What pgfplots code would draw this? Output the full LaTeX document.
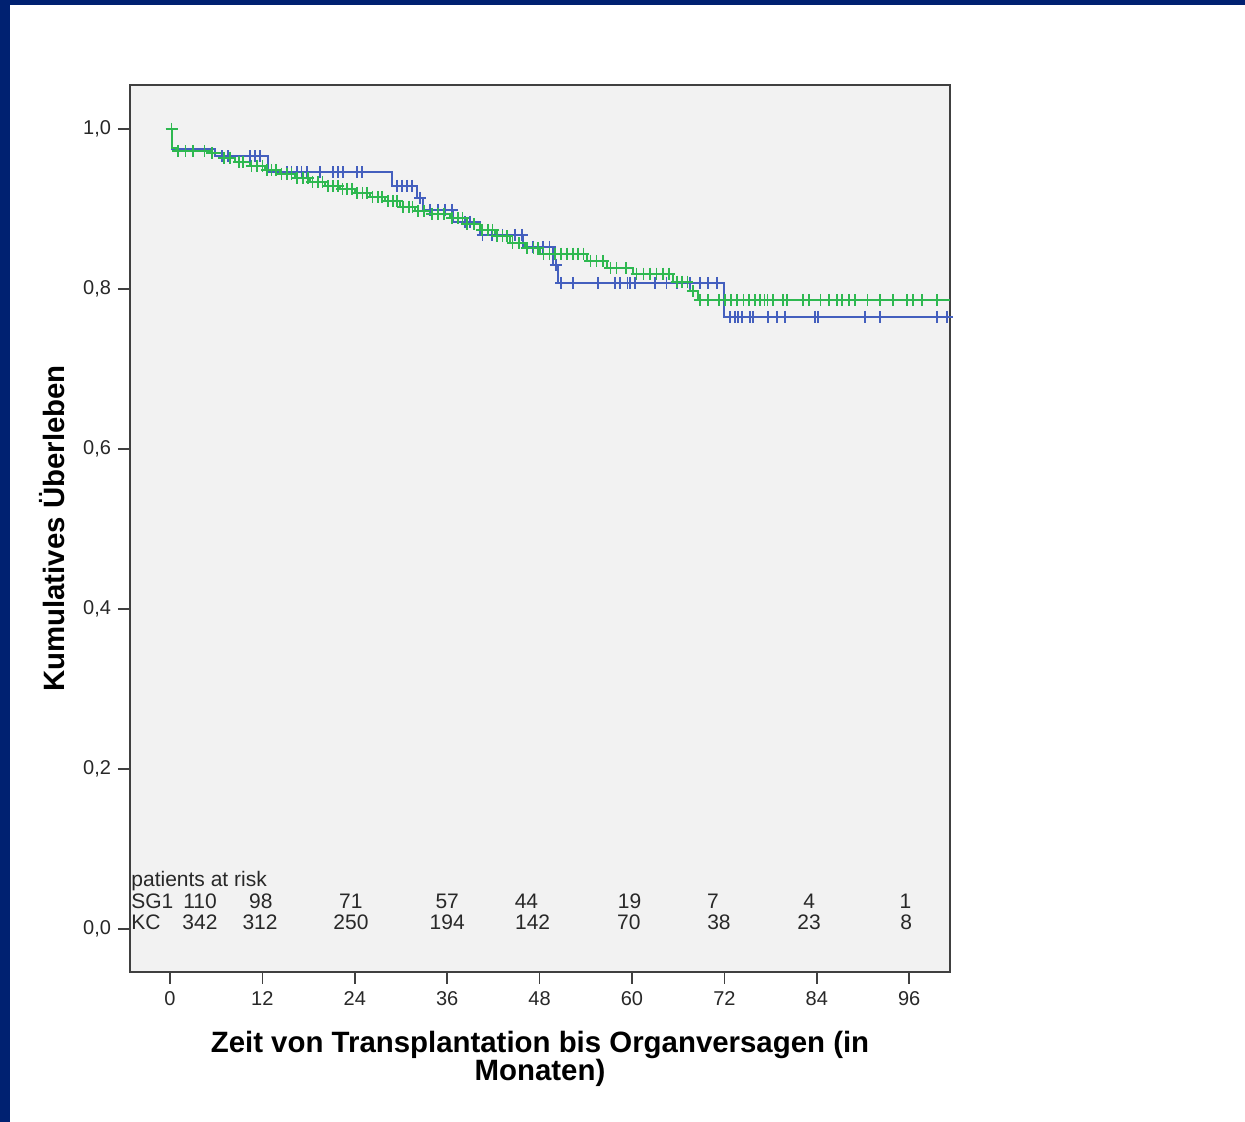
\documentclass[border=0pt]{standalone}
\usepackage{fontspec}
\setmainfont{Liberation Sans}
\usepackage{pgfplots}
\pgfplotsset{compat=1.18}
\definecolor{navy}{RGB}{0,33,113}
\definecolor{sgblue}{RGB}{68,95,190}
\definecolor{kcgreen}{RGB}{46,184,80}
\definecolor{bggray}{RGB}{242,242,242}
\definecolor{txt}{RGB}{40,40,40}
\begin{document}
\begin{tikzpicture}
\fill[white] (0,0) rectangle (622.5pt,561pt);
\useasboundingbox (0,0) rectangle (622.5pt,561pt);
\fill[navy] (0,0) rectangle (5pt,561pt);
\fill[navy] (0,558.5pt) rectangle (622.5pt,561pt);
\begin{axis}[
  at={(65pt,75pt)}, anchor=south west,
  scale only axis, width=410pt, height=443.5pt,
  xmin=-5.19, xmax=101.3, ymin=-0.054, ymax=1.055,
  axis background/.style={fill=bggray},
  axis line style={draw=black!75, line width=0.8pt},
  xtick={0,12,...,96}, ytick={0,0.2,0.4,0.6,0.8,1.0},
  xtick pos=bottom, ytick pos=left, tick align=outside,
  major tick length=6pt, tick style={black!75, line width=0.8pt},
  yticklabel style={/pgf/number format/fixed, /pgf/number format/precision=1,
    /pgf/number format/fixed zerofill, /pgf/number format/use comma},
  ticklabel style={font=\fontsize{10}{12}\selectfont, text=txt},
  /pgf/number format/assume math mode=true,
  xlabel={Zeit von Transplantation bis Organversagen (in\\Monaten)},
  xlabel style={at={(axis description cs:0.5,-0.066)}, anchor=north, align=center,
    font=\fontsize{14.7}{14}\selectfont\bfseries, inner sep=0pt},
  ylabel={Kumulatives Überleben},
  ylabel style={at={(axis description cs:-0.0951,0.5)}, anchor=center,
    font=\fontsize{14.7}{14}\selectfont\bfseries, inner sep=0pt},
]
% SG1 (blue)
\addplot[const plot, sgblue, line width=1pt] coordinates {
 (0,1.0) (0.26,0.975) (5.8,0.966) (12.7,0.946) (28.8,0.929) (32.1,0.914)
 (32.9,0.899) (36.8,0.884) (40.3,0.8675) (45.8,0.8525) (49.7,0.83)
 (50.4,0.8075) (71.9,0.765) (101.3,0.765)
};
\addplot[only marks, mark=+, mark size=3pt, sgblue, line width=0.85pt] coordinates {
 (6.75,0.966) (7.5,0.966) (10.4,0.966) (11.0,0.966) (11.7,0.966)
 (15.2,0.946) (15.8,0.946) (16.5,0.946) (17.1,0.946) (17.8,0.946) (19.5,0.946)
 (21.2,0.946) (21.8,0.946) (22.5,0.946) (24.3,0.946) (24.9,0.946)
 (29.5,0.929) (30.1,0.929) (30.8,0.929) (31.4,0.929)
 (32.5,0.914)
 (33.8,0.899) (34.8,0.899) (35.7,0.899) (36.6,0.899)
 (38.3,0.884) (39.0,0.884)
 (40.6,0.8675) (41.8,0.8675) (43.2,0.8675) (44.8,0.8675) (45.7,0.8675)
 (47.1,0.8525) (48.4,0.8525) (49.3,0.8525)
 (50.1,0.83)
 (50.8,0.8075) (52.3,0.8075) (55.6,0.8075) (57.8,0.8075) (58.4,0.8075)
 (59.4,0.8075) (59.7,0.8075) (60.4,0.8075) (63.0,0.8075) (64.5,0.8075)
 (65.8,0.8075) (67.5,0.8075) (68.8,0.8075) (69.9,0.8075) (71.0,0.8075)
 (72.7,0.765) (73.4,0.765) (73.8,0.765) (74.3,0.765) (75.3,0.765) (75.7,0.765)
 (77.7,0.765) (78.8,0.765) (79.9,0.765) (83.8,0.765) (84.2,0.765)
 (90.3,0.765) (92.2,0.765) (99.6,0.765) (100.9,0.765)
};
% KC (green)
\addplot[const plot, kcgreen, line width=1pt] coordinates {
 (0,1.0) (0.26,0.976) (0.78,0.9725) (5.19,0.97) (6.88,0.964) (8.44,0.959)
 (10.39,0.954) (12.34,0.949) (14.29,0.944) (16.23,0.939) (18.18,0.934)
 (20.13,0.929) (22.08,0.925) (24.03,0.92) (25.97,0.915) (27.92,0.91)
 (29.87,0.9025) (31.82,0.8975) (33.77,0.894) (36.36,0.889) (38.31,0.881)
 (40.26,0.874) (42.21,0.866) (44.16,0.857) (46.1,0.851) (48.05,0.844)
 (54.16,0.835) (56.75,0.826) (60.13,0.819) (65.32,0.809) (67.53,0.7975)
 (68.57,0.786) (101.3,0.786)
};
\addplot[only marks, mark=+, mark size=3pt, kcgreen, line width=0.85pt] coordinates {
 (0.2,1.0) (1,0.9725) (2,0.9725) (3,0.9725) (4.5,0.9725) (5.5,0.97)
 (7,0.964) (7.8,0.964) (9,0.959) (9.5,0.959)
 (10.6,0.954) (11.3,0.954) (12,0.954)
 (12.6,0.949) (13.2,0.949) (13.8,0.949)
 (14.5,0.944) (15.2,0.944) (15.8,0.944)
 (16.5,0.939) (17.3,0.939) (17.9,0.939)
 (18.5,0.934) (19.2,0.934) (19.8,0.934)
 (20.5,0.929) (21.2,0.929) (21.8,0.929)
 (22.4,0.925) (23,0.925) (23.6,0.925)
 (24.3,0.92) (25,0.92) (25.6,0.92)
 (26.3,0.915) (27,0.915) (27.5,0.915)
 (28.3,0.91) (29,0.91) (29.5,0.91)
 (30.3,0.9025) (31,0.9025) (31.5,0.9025)
 (32.2,0.8975) (33,0.8975)
 (34,0.894) (34.8,0.894) (35.6,0.894)
 (36.6,0.889) (37.4,0.889) (38,0.889)
 (38.6,0.881) (39.5,0.881)
 (40.5,0.874) (41.3,0.874) (41.9,0.874)
 (42.5,0.866) (43.2,0.866) (43.8,0.866)
 (44.5,0.857) (45.3,0.857)
 (46.4,0.851) (47.2,0.851) (47.8,0.851)
 (48.5,0.844) (49.3,0.844) (50,0.844) (50.8,0.844) (51.6,0.844) (52.3,0.844) (53,0.844) (53.7,0.844)
 (54.6,0.835) (55.4,0.835) (56.2,0.835)
 (57.2,0.826) (58,0.826) (59.2,0.826)
 (60.6,0.819) (61.5,0.819) (62.3,0.819) (63.2,0.819) (64,0.819) (64.8,0.819)
 (65.8,0.809) (66.5,0.809) (67.2,0.809)
 (67.9,0.7975)
 (68.8,0.786) (69.9,0.786) (71.3,0.786) (72.1,0.786) (72.9,0.786) (73.6,0.786)
 (74.5,0.786) (75.2,0.786) (76.0,0.786) (76.6,0.786) (77.2,0.786) (77.6,0.786)
 (78.3,0.786) (79.6,0.786) (80.1,0.786) (82.2,0.786) (83.0,0.786) (84.5,0.786)
 (85.6,0.786) (86.6,0.786) (87.3,0.786) (88.2,0.786) (89.0,0.786) (90.6,0.786)
 (92.2,0.786) (93.9,0.786) (95.7,0.786) (96.5,0.786) (97.7,0.786) (99.6,0.786)
};
% patients at risk table
\begin{scope}[every node/.style={font=\fontsize{10.5}{12}\selectfont, text=txt, inner sep=0pt}]
\node[anchor=base west] at (axis cs:-5.06,0.053) {patients at risk};
\node[anchor=base west] at (axis cs:-5.06,0.025) {SG1};
\node[anchor=base west] at (axis cs:-5.06,-0.0013) {KC};
\node[anchor=base] at (axis cs:3.9,0.025) {110};
\node[anchor=base] at (axis cs:11.8,0.025) {98};
\node[anchor=base] at (axis cs:23.5,0.025) {71};
\node[anchor=base] at (axis cs:36.0,0.025) {57};
\node[anchor=base] at (axis cs:46.3,0.025) {44};
\node[anchor=base] at (axis cs:59.7,0.025) {19};
\node[anchor=base] at (axis cs:70.5,0.025) {7};
\node[anchor=base] at (axis cs:83.0,0.025) {4};
\node[anchor=base] at (axis cs:95.5,0.025) {1};
\node[anchor=base] at (axis cs:3.9,-0.0013) {342};
\node[anchor=base] at (axis cs:11.7,-0.0013) {312};
\node[anchor=base] at (axis cs:23.5,-0.0013) {250};
\node[anchor=base] at (axis cs:36.0,-0.0013) {194};
\node[anchor=base] at (axis cs:47.1,-0.0013) {142};
\node[anchor=base] at (axis cs:59.6,-0.0013) {70};
\node[anchor=base] at (axis cs:71.3,-0.0013) {38};
\node[anchor=base] at (axis cs:83.0,-0.0013) {23};
\node[anchor=base] at (axis cs:95.6,-0.0013) {8};
\end{scope}
\end{axis}
\end{tikzpicture}
\end{document}
